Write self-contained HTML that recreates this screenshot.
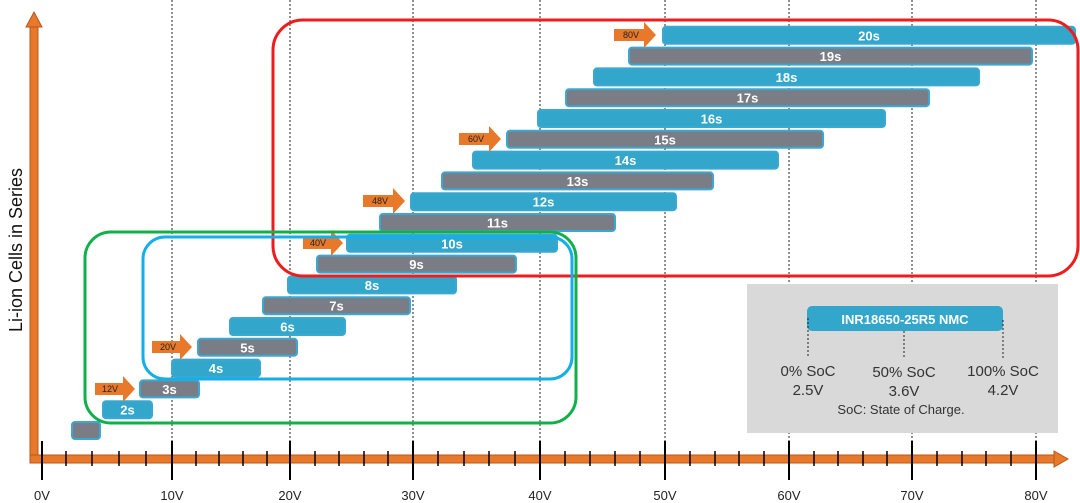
<!DOCTYPE html>
<html><head><meta charset="utf-8"><style>
html,body{margin:0;padding:0;background:#fff;}
svg{display:block;font-family:"Liberation Sans",sans-serif;}
.b{fill:#33a6cc;stroke:#3aa8d0;stroke-width:2}
.g{fill:#7a7d85;stroke:#3aa8d0;stroke-width:2}
.t{fill:#fff;font-weight:bold;font-size:13px;text-anchor:middle}
.ar{fill:#e8782a}
.at{font-size:9px;fill:#222;text-anchor:middle}
.dl{stroke:#222;stroke-width:1;stroke-dasharray:2,2}
.tl{font-size:13px;fill:#222;text-anchor:middle}
</style></head><body>
<svg width="1080" height="503" viewBox="0 0 1080 503">
<!-- dotted verticals -->
<g class="dl">
<line x1="172" y1="0" x2="172" y2="452"/><line x1="290" y1="0" x2="290" y2="452"/>
<line x1="413" y1="0" x2="413" y2="452"/><line x1="540" y1="0" x2="540" y2="452"/>
<line x1="665" y1="0" x2="665" y2="452"/><line x1="789" y1="0" x2="789" y2="452"/>
<line x1="912" y1="0" x2="912" y2="452"/><line x1="1036" y1="0" x2="1036" y2="452"/>
</g>
<!-- legend box -->
<rect x="747" y="284" width="311" height="149" fill="#d9d9d9"/>
<rect x="807" y="306" width="196" height="25" rx="5" fill="#33a6cc"/>
<text x="905" y="324" class="t" font-size="14">INR18650-25R5 NMC</text>
<g class="dl" stroke-width="1.5"><line x1="808" y1="318" x2="808" y2="356"/><line x1="904" y1="331" x2="904" y2="358"/><line x1="1003" y1="320" x2="1003" y2="358"/></g>
<g font-size="15" fill="#333" text-anchor="middle">
<text x="808" y="376">0% SoC</text><text x="808" y="395">2.5V</text>
<text x="904" y="377">50% SoC</text><text x="904" y="396">3.6V</text>
<text x="1003" y="376">100% SoC</text><text x="1003" y="395">4.2V</text>
<text x="901" y="414" font-size="13">SoC: State of Charge.</text>
</g>
<!-- bars -->
<rect class="g" x="72" y="422" width="28" height="17" rx="3"/>
<rect class="b" x="103" y="401.2" width="49" height="17" rx="3"/><text class="t" x="127.5" y="414.7">2s</text>
<rect class="g" x="140" y="380.4" width="59" height="17" rx="3"/><text class="t" x="169.5" y="393.9">3s</text>
<rect class="b" x="172" y="359.6" width="88" height="17" rx="3"/><text class="t" x="216" y="373.1">4s</text>
<rect class="g" x="198" y="338.8" width="99" height="17" rx="3"/><text class="t" x="247.5" y="352.3">5s</text>
<rect class="b" x="230" y="318" width="115" height="17" rx="3"/><text class="t" x="287.5" y="331.5">6s</text>
<rect class="g" x="263" y="297.2" width="147" height="17" rx="3"/><text class="t" x="336.5" y="310.7">7s</text>
<rect class="b" x="288" y="276.4" width="168" height="17" rx="3"/><text class="t" x="372" y="289.9">8s</text>
<rect class="g" x="317" y="255.6" width="199" height="17" rx="3"/><text class="t" x="416.5" y="269.1">9s</text>
<rect class="b" x="347" y="234.8" width="210" height="17" rx="3"/><text class="t" x="452" y="248.3">10s</text>
<rect class="g" x="380" y="214" width="235" height="17" rx="3"/><text class="t" x="497.5" y="227.5">11s</text>
<rect class="b" x="411" y="193.2" width="265" height="17" rx="3"/><text class="t" x="543.5" y="206.7">12s</text>
<rect class="g" x="442" y="172.4" width="271" height="17" rx="3"/><text class="t" x="577.5" y="185.9">13s</text>
<rect class="b" x="473" y="151.6" width="305" height="17" rx="3"/><text class="t" x="625.5" y="165.1">14s</text>
<rect class="g" x="507" y="130.8" width="316" height="17" rx="3"/><text class="t" x="665" y="144.3">15s</text>
<rect class="b" x="538" y="110" width="347" height="17" rx="3"/><text class="t" x="711.5" y="123.5">16s</text>
<rect class="g" x="566" y="89.2" width="363" height="17" rx="3"/><text class="t" x="747.5" y="102.7">17s</text>
<rect class="b" x="594" y="68.4" width="385" height="17" rx="3"/><text class="t" x="786.5" y="81.9">18s</text>
<rect class="g" x="629" y="47.6" width="403" height="17" rx="3"/><text class="t" x="830.5" y="61.1">19s</text>
<rect class="b" x="663" y="26.8" width="412" height="17" rx="3"/><text class="t" x="869" y="40.3">20s</text>
<!-- arrows -->
<g>
<path class="ar" d="M95,383 h28 v-7 l12,13 l-12,13 v-7 h-28z"/><text class="at" x="110" y="392">12V</text>
<path class="ar" d="M152,341 h28 v-7 l12,13 l-12,13 v-7 h-28z"/><text class="at" x="168" y="350">20V</text>
<path class="ar" d="M303,237 h28 v-7 l12,13 l-12,13 v-7 h-28z"/><text class="at" x="318" y="246">40V</text>
<path class="ar" d="M363,195 h30 v-7 l12,13 l-12,13 v-7 h-30z"/><text class="at" x="380" y="204">48V</text>
<path class="ar" d="M459,133 h30 v-7 l12,13 l-12,13 v-7 h-30z"/><text class="at" x="476" y="142">60V</text>
<path class="ar" d="M614,29 h30 v-7 l12,13 l-12,13 v-7 h-30z"/><text class="at" x="631" y="38">80V</text>
</g>
<!-- rounded outline boxes -->
<rect x="273" y="20" width="805" height="256" rx="30" fill="none" stroke="#ee1c1c" stroke-width="3"/>
<rect x="85" y="232" width="491" height="191" rx="26" fill="none" stroke="#12b04a" stroke-width="3"/>
<rect x="143" y="237" width="429" height="142" rx="22" fill="none" stroke="#14aee8" stroke-width="3"/>
<!-- axes -->
<rect x="30" y="26" width="8" height="434" fill="#e8782a" stroke="#b8561a" stroke-width="1"/>
<path d="M26,27 L34,12 L42,27z" fill="#e8782a" stroke="#b8561a"/>
<rect x="30" y="455" width="1026" height="8" fill="#e8782a" stroke="#b8561a" stroke-width="1"/>
<path d="M1054,451 L1068,459 L1054,467z" fill="#e8782a" stroke="#b8561a"/>
<g stroke="#000" stroke-width="2">
<line x1="42" y1="441" x2="42" y2="480"/><line x1="172" y1="441" x2="172" y2="480"/>
<line x1="290" y1="441" x2="290" y2="480"/><line x1="413" y1="441" x2="413" y2="480"/>
<line x1="540" y1="441" x2="540" y2="480"/><line x1="665" y1="441" x2="665" y2="480"/>
<line x1="789" y1="441" x2="789" y2="480"/><line x1="912" y1="441" x2="912" y2="480"/>
<line x1="1036" y1="441" x2="1036" y2="480"/>
</g>
<g stroke="#000" stroke-width="1.5">
<line x1="66" y1="451" x2="66" y2="466"/><line x1="92" y1="451" x2="92" y2="466"/><line x1="119" y1="451" x2="119" y2="466"/><line x1="146" y1="451" x2="146" y2="466"/>
<line x1="196" y1="451" x2="196" y2="466"/><line x1="219" y1="451" x2="219" y2="466"/><line x1="243" y1="451" x2="243" y2="466"/><line x1="267" y1="451" x2="267" y2="466"/>
<line x1="315" y1="451" x2="315" y2="466"/><line x1="339" y1="451" x2="339" y2="466"/><line x1="364" y1="451" x2="364" y2="466"/><line x1="388" y1="451" x2="388" y2="466"/>
<line x1="438" y1="451" x2="438" y2="466"/><line x1="464" y1="451" x2="464" y2="466"/><line x1="489" y1="451" x2="489" y2="466"/><line x1="515" y1="451" x2="515" y2="466"/>
<line x1="565" y1="451" x2="565" y2="466"/><line x1="590" y1="451" x2="590" y2="466"/><line x1="615" y1="451" x2="615" y2="466"/><line x1="640" y1="451" x2="640" y2="466"/>
<line x1="690" y1="451" x2="690" y2="466"/><line x1="715" y1="451" x2="715" y2="466"/><line x1="739" y1="451" x2="739" y2="466"/><line x1="764" y1="451" x2="764" y2="466"/>
<line x1="814" y1="451" x2="814" y2="466"/><line x1="838" y1="451" x2="838" y2="466"/><line x1="863" y1="451" x2="863" y2="466"/><line x1="887" y1="451" x2="887" y2="466"/>
<line x1="937" y1="451" x2="937" y2="466"/><line x1="962" y1="451" x2="962" y2="466"/><line x1="986" y1="451" x2="986" y2="466"/><line x1="1011" y1="451" x2="1011" y2="466"/>
</g>
<g font-size="13" fill="#222" text-anchor="middle">
<text x="42" y="500">0V</text><text x="172" y="500">10V</text><text x="290" y="500">20V</text>
<text x="413" y="500">30V</text><text x="540" y="500">40V</text><text x="665" y="500">50V</text>
<text x="789" y="500">60V</text><text x="912" y="500">70V</text><text x="1036" y="500">80V</text>
</g>
<text x="0" y="0" transform="translate(22,250) rotate(-90)" font-size="18" fill="#111" text-anchor="middle">Li-ion Cells in Series</text>
</svg>
</body></html>
